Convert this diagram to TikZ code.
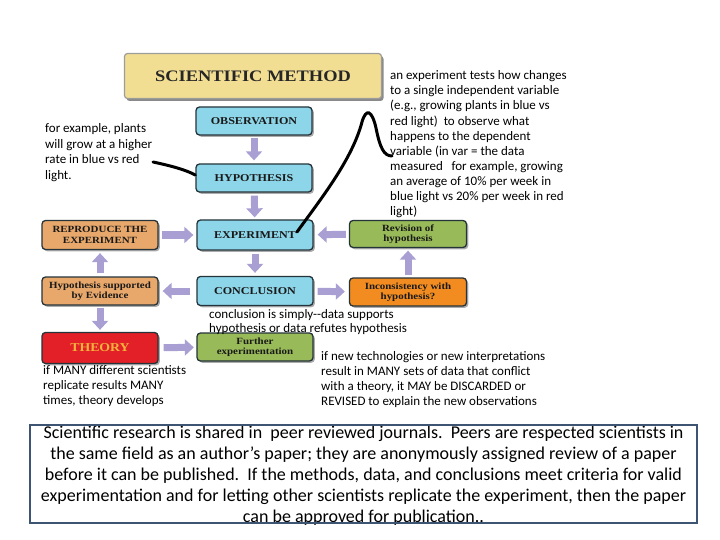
\documentclass[tikz,border=0pt]{standalone}
\usepackage{fontspec}
\setmainfont{Carlito}
\newfontfamily\boxfont{Liberation Serif}[FakeStretch=1.15]
\usetikzlibrary{arrows.meta,shadows,calc}
\definecolor{titlefill}{HTML}{F2DE92}
\definecolor{titledraw}{HTML}{9C9C9C}
\definecolor{bluefill}{HTML}{8DD5E8}
\definecolor{boxc}{HTML}{25343A}
\definecolor{orangefill}{HTML}{E9A86B}
\definecolor{greenfill}{HTML}{98BA58}
\definecolor{incfill}{HTML}{F28C20}
\definecolor{theoryfill}{HTML}{E31F27}
\definecolor{theorytext}{HTML}{F3B43C}
\definecolor{arrowc}{HTML}{A99FD3}
\definecolor{bottomdraw}{HTML}{3D5573}
\begin{document}
\begin{tikzpicture}[x=1pt,y=-1pt,
  box/.style={draw=boxc, line width=1.3pt, rounded corners=3.5pt, inner sep=1pt,
    align=center, text=black!90,
    font=\boxfont\bfseries\fontsize{9.5}{10.5}\selectfont,
    drop shadow={shadow xshift=1.8pt, shadow yshift=-1.8pt, fill=black!60, opacity=0.55}},
  bluebox/.style={box, fill=bluefill, minimum width=116pt, minimum height=28pt,
    font=\boxfont\bfseries\fontsize{10.5}{12}\selectfont},
  orangebox/.style={box, fill=orangefill, minimum width=116pt, minimum height=28pt},
  greenbox/.style={box, fill=greenfill, minimum width=117pt, minimum height=27pt},
  barrow/.style={draw=arrowc, line width=7pt, -{Triangle[width=16pt,length=9pt]}},
  note/.style={align=left, anchor=base west, inner sep=0pt, font=\fontsize{13}{15}\selectfont},
  pointer/.style={draw=black, line width=3pt, line cap=round}
]
\useasboundingbox (0,0) rectangle (720,540);

% title
\node[draw=titledraw, line width=1.2pt, fill=titlefill, rounded corners=3pt,
  minimum width=257pt, minimum height=45pt,
  drop shadow={shadow xshift=2pt, shadow yshift=-2.5pt, fill=black!65, opacity=0.7},
  font=\boxfont\bfseries\fontsize{16}{18}\selectfont, text=black!85] (title) at (253,76) {SCIENTIFIC METHOD};

% main column
\node[bluebox] (obs) at (254,121) {OBSERVATION};
\node[bluebox] (hyp) at (254,178) {HYPOTHESIS};
\node[bluebox, minimum height=30pt] (exp) at (255,235) {EXPERIMENT};
\node[bluebox, minimum height=29pt] (con) at (255,291) {CONCLUSION};

% left column
\node[orangebox, minimum height=29pt] (rep) at (100,235) {REPRODUCE THE\\EXPERIMENT};
\node[orangebox] (sup) at (100,291) {Hypothesis supported\\by Evidence};
\node[box, fill=theoryfill, minimum width=116pt, minimum height=31pt, text=theorytext,
  font=\boxfont\bfseries\fontsize{12}{14}\selectfont] (theory) at (100,348) {THEORY};

% right column
\node[greenbox] (rev) at (408,234) {Revision of\\hypothesis};
\node[box, fill=incfill, minimum width=117pt, minimum height=28pt] (inc) at (408,292) {Inconsistency with\\hypothesis?};
\node[greenbox, minimum width=116pt, minimum height=28pt, font=\boxfont\bfseries\fontsize{9.5}{10.5}\selectfont] (fur) at (255,347) {Further\\experimentation};

% block arrows
\draw[barrow, shorten <=2pt, shorten >=3pt] (obs) -- (hyp);
\draw[barrow, shorten <=3pt, shorten >=2pt] (hyp) -- (exp);
\draw[barrow, shorten <=3pt, shorten >=3pt] (exp) -- (con);
\draw[barrow, shorten <=3pt, shorten >=3pt] (rep) -- (exp);
\draw[barrow, shorten <=3pt, shorten >=4pt] (rev) -- (exp);
\draw[barrow, shorten <=6pt, shorten >=4pt] (con) -- (sup);
\draw[barrow, shorten <=4pt, shorten >=4pt] (con) -- (inc);
\draw[barrow, shorten <=2pt, shorten >=2.5pt] (inc) -- (rev);
\draw[barrow, shorten <=3pt, shorten >=3pt] (sup) -- (rep);
\draw[barrow, shorten <=2pt, shorten >=2pt] (sup) -- (theory);
\draw[barrow, shorten <=5pt, shorten >=2.5pt] (theory) -- (fur);

% annotations (anchor = baseline of last line)
\node[note, font=\fontsize{13}{15.5}\selectfont] (n1) at (45,179.5) {for example, plants\\will grow at a higher\\rate in blue vs red\\light.};
\node[note] (n2) at (390,215) {an experiment tests how changes\\to a single independent variable\\(e.g., growing plants in blue vs\\red light)\ \ to observe what\\happens to the dependent\\variable (in var = the data\\measured\ \ \ for example, growing\\an average of 10\% per week in\\blue light vs 20\% per week in red\\light)};
\node[note, font=\fontsize{13}{14.5}\selectfont] (n3) at (209,332.5) {conclusion is simply-{}-data supports\\hypothesis or data refutes hypothesis};
\node[note] (n4) at (43,404) {if MANY different scientists\\replicate results MANY\\times, theory develops};
\node[note] (n5) at (321,405) {if new technologies or new interpretations\\result in MANY sets of data that conflict\\with a theory, it MAY be DISCARDED or\\REVISED to explain the new observations};

% hand-drawn pointers
\coordinate (p1) at (153,162);
\draw[pointer] (p1) .. controls (172,166) and (186,170) .. ([yshift=3pt]hyp.west);
\coordinate (p2) at (392,156);
\draw[pointer] ([xshift=42pt,yshift=3pt]exp.center) .. controls (320,200) and (352,160) .. (362,122)
  .. controls (366,108) and (372,110) .. (376,128) .. controls (380,148) and (384,156) .. (p2);

% bottom box
\node[align=center, anchor=base, inner sep=0pt, font=\fontsize{18}{21}\selectfont] (peer) at (363.5,522)
  {Scientific research is shared in\ \ peer reviewed journals.\ \ Peers are respected scientists in\\
   the same field as an author's paper; they are anonymously assigned review of a paper\\
   before it can be published.\ \ If the methods, data, and conclusions meet criteria for valid\\
   experimentation and for letting other scientists replicate the experiment, then the paper\\
   can be approved for publication..};
\draw[bottomdraw, line width=2.8pt] (30,425) rectangle (697,523);
\end{tikzpicture}
\end{document}
